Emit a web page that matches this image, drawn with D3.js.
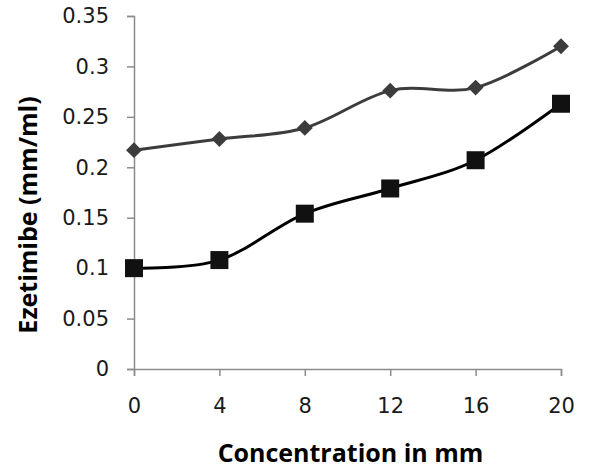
<!DOCTYPE html>
<html>
<head>
<meta charset="UTF-8">
<script src="https://d3js.org/d3.v7.min.js"></script>
<style>
  body { margin: 0; background: #fff; }
  .axis path, .axis line { stroke: #8c8c8c; stroke-width: 1.5; }
  .axis text { font-family: "DejaVu Sans", sans-serif; font-size: 21px; fill: #1a1a1a; }
  .title { font-family: "Open Sans", sans-serif; font-weight: bold; font-size: 25px; fill: #000; }
</style>
</head>
<body>
<svg id="chart" width="609" height="471"></svg>
<script>
const concentration = [0, 4, 8, 12, 16, 20];
const diamondSeries = [0.217, 0.228, 0.239, 0.276, 0.279, 0.320];
const squareSeries = [0.100, 0.108, 0.154, 0.179, 0.207, 0.263];
const yTicks = [0, 0.05, 0.1, 0.15, 0.2, 0.25, 0.3, 0.35];

const svg = d3.select("#chart");
const margin = {top: 16, right: 48, bottom: 102, left: 134},
    width = 609 - margin.left - margin.right,
    height = 471 - margin.top - margin.bottom;

const x = d3.scaleLinear().domain([0, 20]).range([0, width]);
const y = d3.scaleLinear().domain([0, 0.35]).range([height, 0]);

const g = svg.append("g").attr("transform", `translate(${margin.left},${margin.top})`);

g.append("g")
    .attr("class", "axis")
    .attr("transform", `translate(0,${height})`)
    .call(d3.axisBottom(x).tickValues(concentration).tickSize(7).tickSizeOuter(7).tickPadding(22));

g.append("g")
    .attr("class", "axis")
    .call(d3.axisLeft(y).tickValues(yTicks).tickFormat(d => String(+d.toFixed(2))).tickSize(7).tickSizeOuter(7).tickPadding(18));

const line = d3.line()
    .x((d, i) => x(concentration[i]))
    .y(d => y(d))
    .curve(d3.curveCardinal.tension(0));

g.append("path").datum(diamondSeries)
    .attr("fill", "none").attr("stroke", "#3c3c3c").attr("stroke-width", 3)
    .attr("d", line);
g.append("path").datum(squareSeries)
    .attr("fill", "none").attr("stroke", "#000").attr("stroke-width", 3)
    .attr("d", line);

g.selectAll(".diamond").data(diamondSeries).enter().append("path")
    .attr("class", "diamond")
    .attr("transform", (d, i) => `translate(${x(concentration[i])},${y(d)})`)
    .attr("d", d3.symbol(d3.symbolDiamond2, 160)())
    .attr("fill", "#3c3c3c");

g.selectAll(".square").data(squareSeries).enter().append("rect")
    .attr("class", "square")
    .attr("x", (d, i) => x(concentration[i]) - 9)
    .attr("y", d => y(d) - 9)
    .attr("width", 18).attr("height", 18)
    .attr("fill", "#111");

svg.append("text").attr("class", "title")
    .attr("x", margin.left + width / 2 + 3).attr("y", 462)
    .attr("text-anchor", "middle")
    .text("Concentration in mm");

svg.append("text").attr("class", "title")
    .attr("transform", `translate(37,215) rotate(-90)`)
    .attr("text-anchor", "middle")
    .text("Ezetimibe (mm/ml)");
</script>
</body>
</html>
